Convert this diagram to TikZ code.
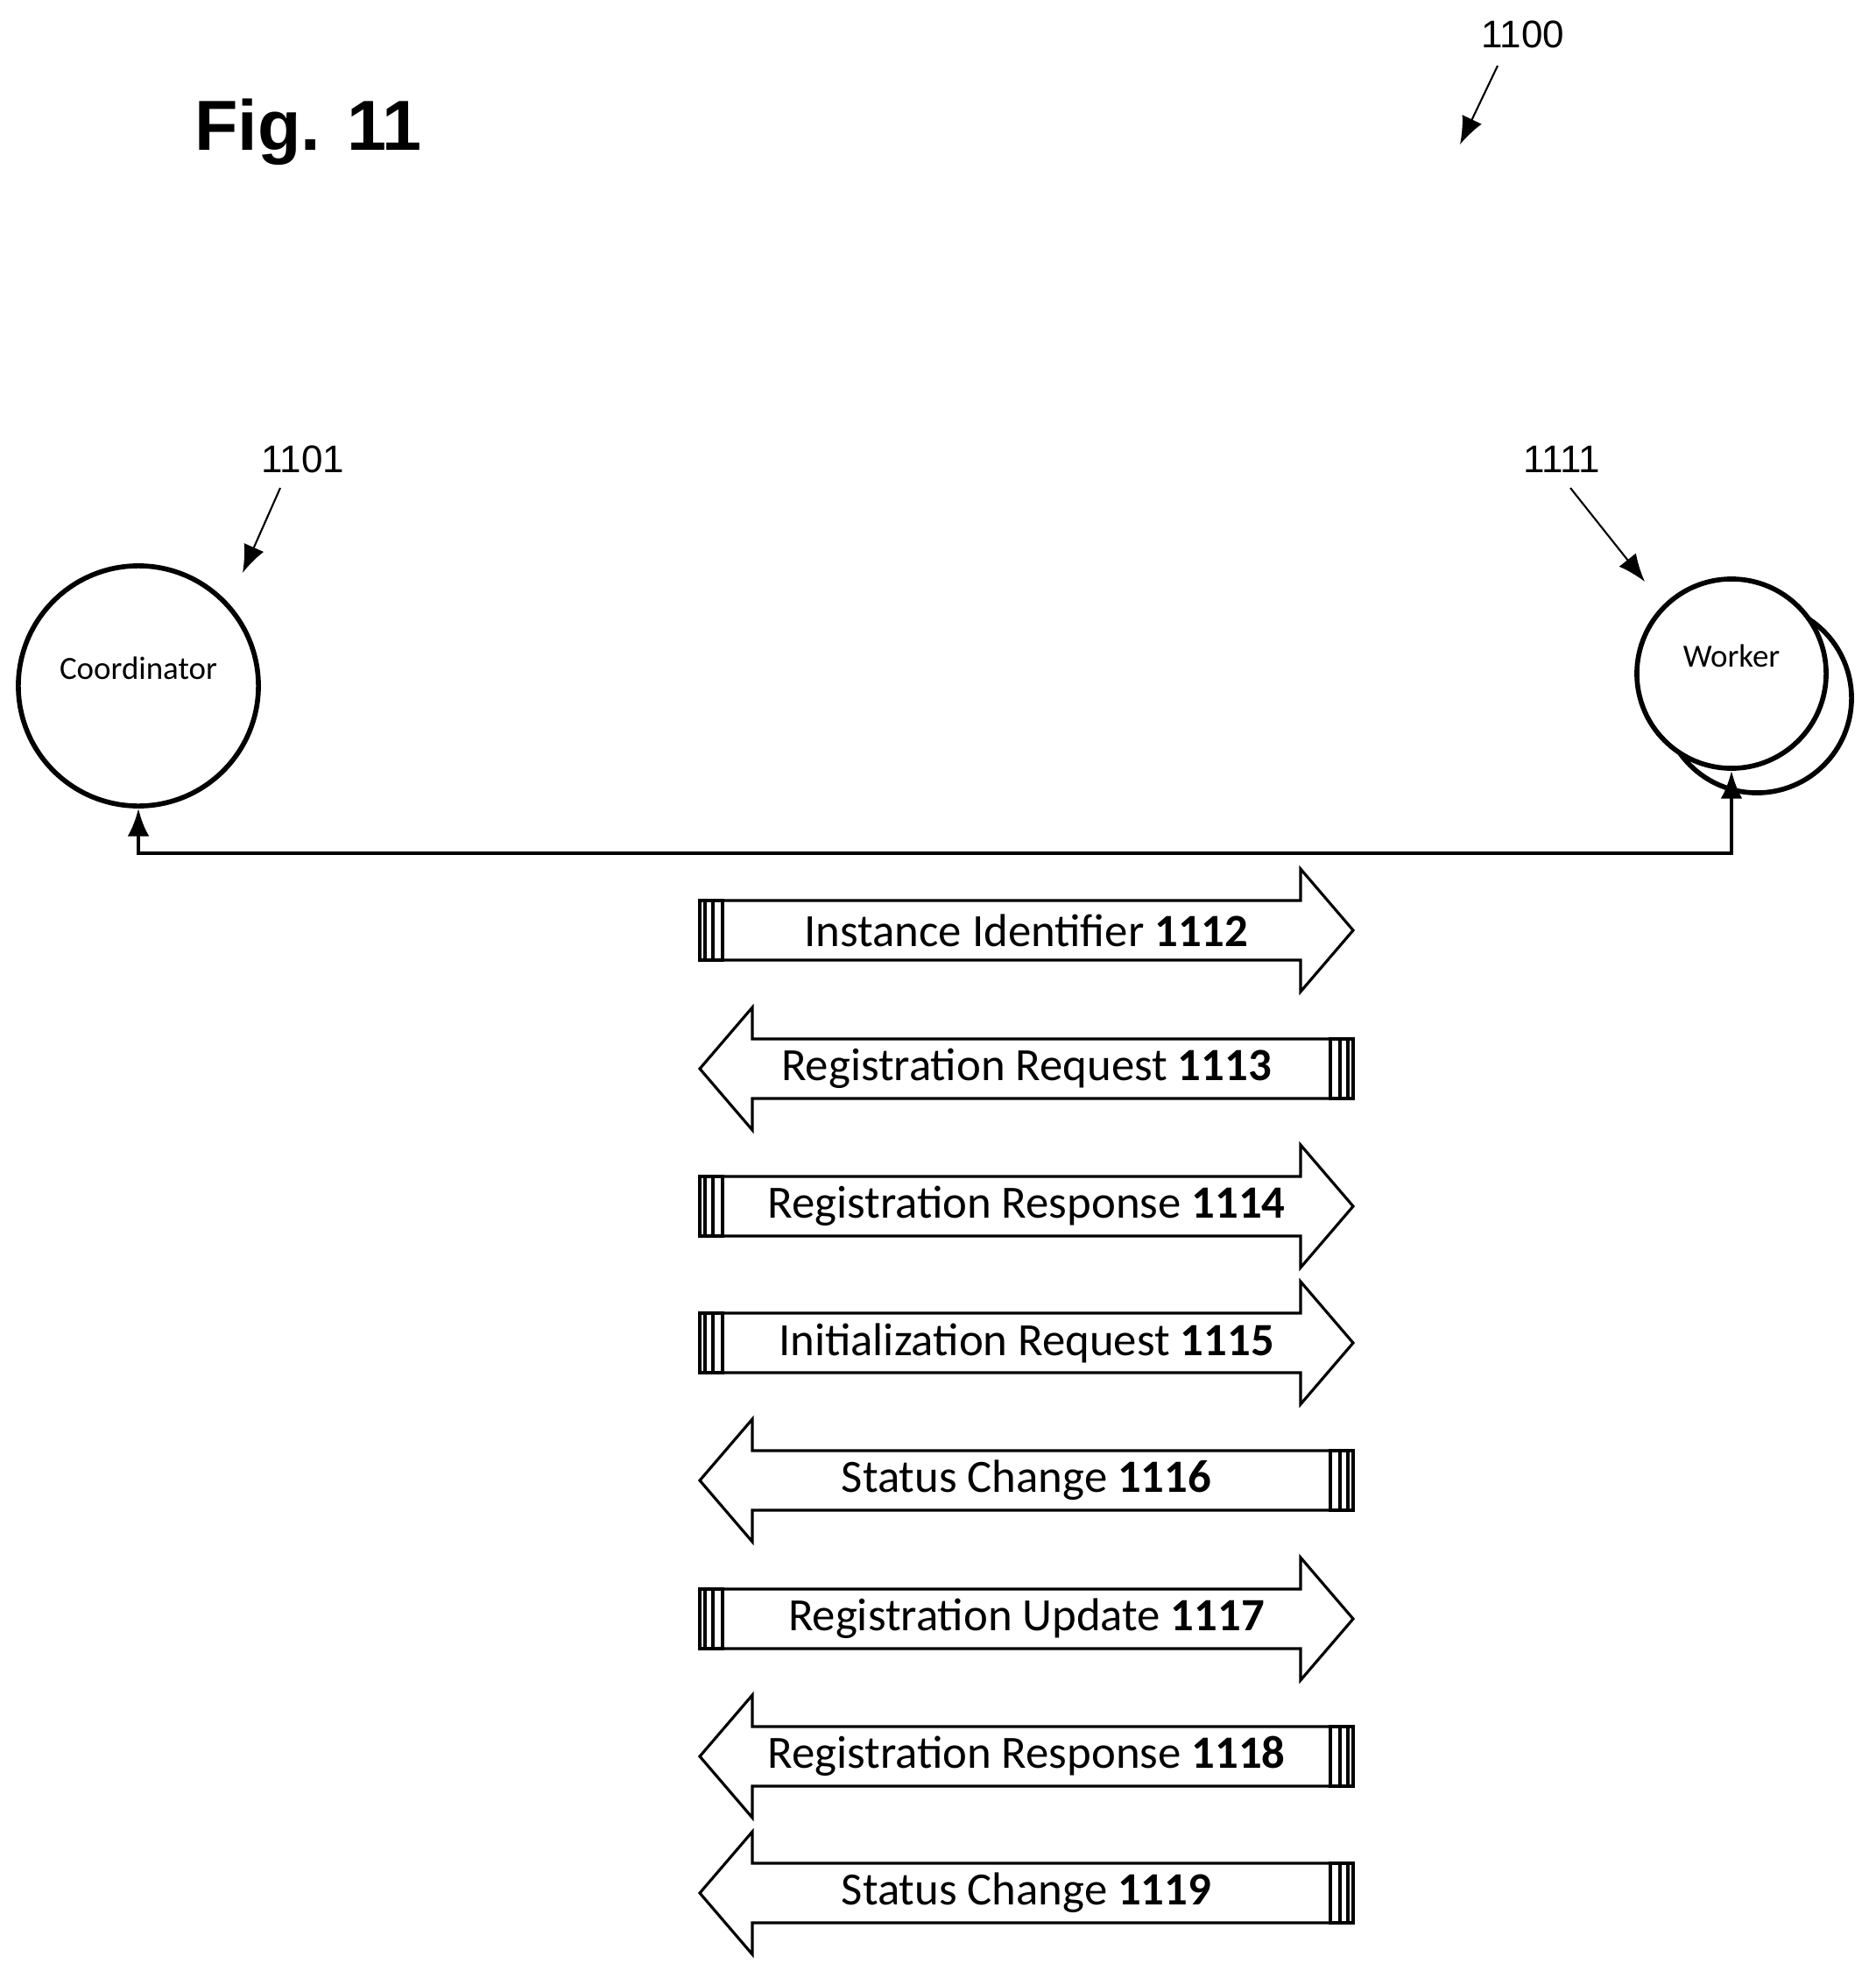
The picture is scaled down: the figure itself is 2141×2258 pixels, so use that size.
\documentclass[tikz,border=0pt]{standalone}
\usepackage{fontspec}
\setmainfont{Carlito}
\newfontfamily\refsans{Liberation Sans}
\usetikzlibrary{arrows.meta,calc}

\tikzset{
  refnum/.style={font=\refsans\fontsize{12.5}{14}\selectfont},
  party/.style={circle,draw,line width=1.6pt,inner sep=0pt,fill=white},
  msgtext/.style={font=\fontsize{15}{17}\selectfont},
  leader/.style={-{Latex[length=9pt,width=7pt]},line width=0.6pt}
}

\newcommand{\msgshape}{%
  \draw[line width=0.9pt,fill=white] (-347,-34) -- (313,-34) -- (313,-70) -- (373,0)
    -- (313,70) -- (313,34) -- (-347,34) -- cycle;
  \draw[line width=0.9pt] (-373,-34) rectangle (-347,34);
  \draw[line width=0.9pt] (-367,-34) -- (-367,34);
  \draw[line width=0.9pt] (-358,-34) -- (-358,34);
}

\begin{document}
\begin{tikzpicture}[x=0.01cm,y=-0.01cm,>=Latex]
  \useasboundingbox (0,0) rectangle (2141,2258);

  \node[font=\refsans\bfseries\fontsize{23}{26}\selectfont] (fig) at (352,151) {Fig. 11};

  % parties
  \node[party,minimum size=2.74cm] (coord) at (158,783) {};
  \node[font=\fontsize{10.5}{12}\selectfont] (coordtxt) at (158,763) {Coordinator};
  \node[party,minimum size=2.16cm] (workerback) at (2006,797) {};
  \node[party,minimum size=2.16cm] (worker) at (1977,769) {};
  \node[font=\fontsize{10.5}{12}\selectfont] (workertxt) at (1977,749) {Worker};

  % reference numerals
  \node[refnum] (n1100) at (1739,39) {1100};
  \coordinate (n1100a) at (1710,75);
  \coordinate (n1100b) at (1667,165);
  \draw[leader] (n1100a) -- (n1100b);

  \node[refnum] (n1101) at (346,524) {1101};
  \coordinate (n1101a) at (320,557);
  \coordinate (n1101b) at (277,654);
  \draw[leader] (n1101a) -- (n1101b);

  \node[refnum] (n1111) at (1783,524) {1111};
  \coordinate (n1111a) at (1793,557);
  \coordinate (n1111b) at (1878,664);
  \draw[leader] (n1111a) -- (n1111b);

  % channel
  \coordinate (busL) at (158,974);
  \coordinate (busR) at (1977,974);
  \draw[line width=1.2pt,{Latex[length=9pt,width=7pt]}-{Latex[length=9pt,width=7pt]}]
    (coord.south) -- (busL) -- (busR) -- (worker.south);

  % messages
  \foreach \y/\d/\txt in {1062/1/{Instance Identifier \textbf{1112}},
                          1220/-1/{Registration Request \textbf{1113}},
                          1377/1/{Registration Response \textbf{1114}},
                          1533/1/{Initialization Request \textbf{1115}},
                          1690/-1/{Status Change \textbf{1116}},
                          1848/1/{Registration Update \textbf{1117}},
                          2005/-1/{Registration Response \textbf{1118}},
                          2161/-1/{Status Change \textbf{1119}}}{
    \begin{scope}[shift={(1172,\y)},xscale=\d]
      \msgshape
    \end{scope}
    \node[msgtext] (msg\y) at (1172,\y) {\txt};
  }
\end{tikzpicture}
\end{document}
